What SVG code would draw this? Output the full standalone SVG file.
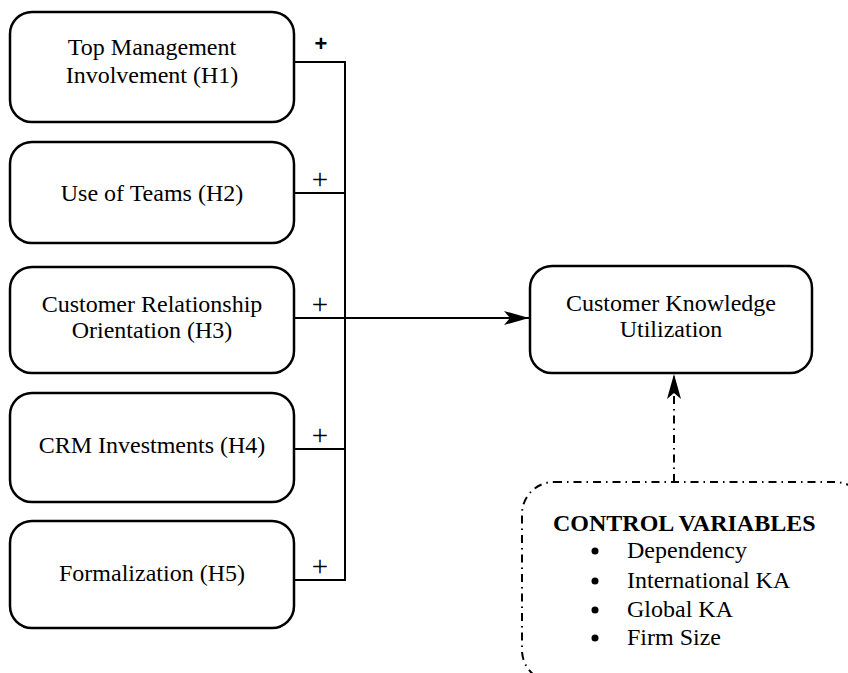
<svg xmlns="http://www.w3.org/2000/svg" width="848" height="673" viewBox="0 0 848 673">
<defs>
<style>
.box{fill:#fff;stroke:#000;stroke-width:2.5}
.t{font-family:"Liberation Serif","Times New Roman",serif;font-size:24px;fill:#000;text-anchor:middle}
.l{font-family:"Liberation Serif","Times New Roman",serif;font-size:24px;fill:#000}
.p{font-family:"Liberation Serif","Times New Roman",serif;font-size:29px;fill:#000;text-anchor:middle}
.ln{fill:none;stroke:#000;stroke-width:2}
.dd{fill:none;stroke:#000;stroke-width:2;stroke-dasharray:8 5 1.5 5}
</style>
<marker id="ah" markerWidth="26" markerHeight="16" refX="25" refY="8" orient="auto" markerUnits="userSpaceOnUse">
<path d="M0,1 L25,8 L0,15 L6,8 Z" fill="#000"/>
</marker>
</defs>
<rect width="848" height="673" fill="#fff"/>
<g id="h1"><rect class="box" x="10" y="12" width="284" height="110" rx="22"/><text class="t" x="152" y="55">Top Management</text><text class="t" x="152" y="83">Involvement (H1)</text></g>
<g id="h2"><rect class="box" x="10" y="142" width="284" height="101" rx="22"/><text class="t" x="152" y="201">Use of Teams (H2)</text></g>
<g id="h3"><rect class="box" x="10" y="267" width="284" height="106" rx="22"/><text class="t" x="152" y="312">Customer Relationship</text><text class="t" x="152" y="338">Orientation (H3)</text></g>
<g id="h4"><rect class="box" x="10" y="393" width="284" height="109" rx="22"/><text class="t" x="152" y="453">CRM Investments (H4)</text></g>
<g id="h5"><rect class="box" x="10" y="521" width="284" height="107" rx="22"/><text class="t" x="152" y="581">Formalization (H5)</text></g>
<g id="ckw"><rect class="box" x="530" y="266" width="282" height="107" rx="22"/><text class="t" x="671" y="311">Customer Knowledge</text><text class="t" x="671" y="337">Utilization</text></g>
<g id="control"><rect class="dd" x="522" y="482" width="345" height="200" rx="32"/>
<text class="l" x="553" y="531" style="font-weight:bold">CONTROL VARIABLES</text>
<circle cx="595" cy="551" r="3.5"/><text class="l" x="627" y="558">Dependency</text>
<circle cx="595" cy="581" r="3.5"/><text class="l" x="627" y="588">International KA</text>
<circle cx="595" cy="610" r="3.5"/><text class="l" x="627" y="617">Global KA</text>
<circle cx="595" cy="638" r="3.5"/><text class="l" x="627" y="645">Firm Size</text>
</g>
<g id="connectors">
<path class="ln" d="M294,62 H345 V580 H294 M294,193 H345 M294,449 H345"/>
<path class="ln" d="M294,318 H529" marker-end="url(#ah)"/>
<path class="dd" d="M674,482 V374" marker-end="url(#ah)"/>
<text x="321" y="51" style="font-family:'Liberation Sans',Arial,sans-serif;font-size:22px;font-weight:bold;text-anchor:middle">+</text>
<text class="p" x="320" y="189">+</text>
<text class="p" x="320" y="314">+</text>
<text class="p" x="320" y="445">+</text>
<text class="p" x="320" y="576">+</text>
</g>
</svg>
